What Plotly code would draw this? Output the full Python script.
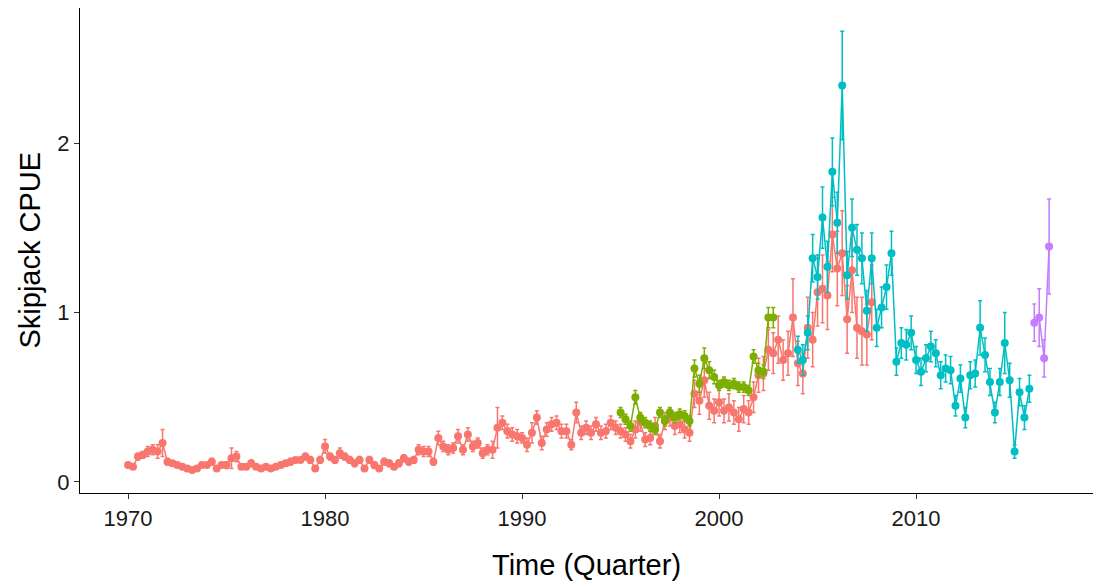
import plotly.graph_objects as go

# ---------------- data ----------------
red_start = 1970.0
red_vals = [
    0.10, 0.09, 0.15, 0.16,  # 1970
    0.18, 0.19, 0.18, 0.23,  # 1971
    0.12, 0.11, 0.10, 0.09,  # 1972
    0.08, 0.07, 0.08, 0.10,  # 1973
    0.10, 0.12, 0.08, 0.10,  # 1974
    0.10, 0.14, 0.15, 0.09,  # 1975
    0.09, 0.11, 0.09, 0.08,  # 1976
    0.09, 0.08, 0.09, 0.10,  # 1977
    0.11, 0.12, 0.13, 0.13,  # 1978
    0.15, 0.13, 0.08, 0.13,  # 1979
    0.21, 0.15, 0.13, 0.17,  # 1980
    0.15, 0.13, 0.11, 0.13,  # 1981
    0.08, 0.13, 0.10, 0.08,  # 1982
    0.12, 0.11, 0.09, 0.11,  # 1983
    0.14, 0.12, 0.13, 0.19,  # 1984
    0.18, 0.18, 0.12, 0.26,  # 1985
    0.21, 0.19, 0.20, 0.27,  # 1986
    0.19, 0.28, 0.21, 0.23,  # 1987
    0.17, 0.19, 0.19, 0.32,  # 1988
    0.35, 0.30, 0.28, 0.27,  # 1989
    0.26, 0.22, 0.29, 0.38,  # 1990
    0.23, 0.31, 0.34, 0.35,  # 1991
    0.30, 0.30, 0.22, 0.41,  # 1992
    0.29, 0.32, 0.29, 0.34,  # 1993
    0.29, 0.30, 0.35, 0.32,  # 1994
    0.30, 0.28, 0.24, 0.31,  # 1995
    0.35, 0.25, 0.26, 0.33,  # 1996
    0.24, 0.36, 0.38, 0.33,  # 1997
    0.34, 0.31, 0.29, 0.52,  # 1998
    0.48, 0.60, 0.45, 0.42,  # 1999
    0.47, 0.42, 0.44, 0.41,  # 2000
    0.37, 0.43, 0.41, 0.50,  # 2001
    0.63, 0.64, 0.78, 0.76,  # 2002
    0.84, 0.72, 0.76, 0.97,  # 2003
    0.70, 0.64, 0.91, 0.84,  # 2004
    1.12, 1.14, 1.10, 1.46,  # 2005
    1.26, 1.35, 0.96, 1.25,  # 2006
    0.91, 0.89, 0.87, 1.06,  # 2007
]
red_err = [
    0.01, 0.01, 0.02, 0.02,
    0.03, 0.03, 0.04, 0.08,
    0.02, 0.01, 0.01, 0.01,
    0.01, 0.01, 0.01, 0.01,
    0.01, 0.02, 0.01, 0.01,
    0.02, 0.06, 0.03, 0.01,
    0.01, 0.02, 0.01, 0.01,
    0.01, 0.01, 0.01, 0.01,
    0.01, 0.02, 0.01, 0.01,
    0.02, 0.02, 0.01, 0.02,
    0.04, 0.02, 0.02, 0.03,
    0.02, 0.02, 0.02, 0.02,
    0.01, 0.02, 0.02, 0.01,
    0.02, 0.02, 0.01, 0.02,
    0.02, 0.02, 0.02, 0.03,
    0.03, 0.03, 0.02, 0.04,
    0.03, 0.03, 0.03, 0.04,
    0.03, 0.04, 0.03, 0.03,
    0.03, 0.03, 0.05, 0.12,
    0.04, 0.04, 0.04, 0.04,
    0.03, 0.04, 0.06, 0.04,
    0.04, 0.04, 0.04, 0.04,
    0.04, 0.04, 0.03, 0.06,
    0.04, 0.04, 0.04, 0.04,
    0.04, 0.04, 0.04, 0.04,
    0.04, 0.04, 0.04, 0.05,
    0.05, 0.04, 0.04, 0.05,
    0.04, 0.05, 0.05, 0.05,
    0.05, 0.05, 0.05, 0.08,
    0.08, 0.10, 0.08, 0.07,
    0.08, 0.07, 0.08, 0.07,
    0.07, 0.08, 0.07, 0.09,
    0.10, 0.10, 0.12, 0.12,
    0.14, 0.12, 0.13, 0.23,
    0.13, 0.12, 0.18, 0.16,
    0.20, 0.20, 0.20, 0.22,
    0.22, 0.25, 0.20, 0.25,
    0.18, 0.20, 0.18, 0.22,
]

green_start = 1995.0
green_vals = [
    0.41, 0.37, 0.33, 0.50,  # 1995
    0.38, 0.35, 0.33, 0.31,  # 1996
    0.41, 0.36, 0.41, 0.38,  # 1997
    0.40, 0.39, 0.36, 0.67,  # 1998
    0.58, 0.73, 0.66, 0.62,  # 1999
    0.57, 0.59, 0.57, 0.58,  # 2000
    0.56, 0.56, 0.54, 0.74,  # 2001
    0.66, 0.65, 0.97, 0.97,  # 2002
]
green_err = [
    0.03, 0.03, 0.03, 0.04,
    0.03, 0.03, 0.03, 0.03,
    0.03, 0.03, 0.03, 0.03,
    0.03, 0.03, 0.03, 0.05,
    0.05, 0.06, 0.05, 0.04,
    0.03, 0.03, 0.03, 0.03,
    0.03, 0.03, 0.03, 0.04,
    0.04, 0.04, 0.06, 0.06,
]

cyan_start = 2004.0
cyan_vals = [
    0.78, 0.72, 0.88, 1.32,  # 2004
    1.21, 1.56, 1.27, 1.83,  # 2005
    1.53, 2.34, 1.22, 1.50,  # 2006
    1.37, 1.32, 1.01, 1.32,  # 2007
    0.91, 1.03, 1.15, 1.35,  # 2008
    0.71, 0.82, 0.81, 0.88,  # 2009
    0.72, 0.65, 0.73, 0.80,  # 2010
    0.76, 0.63, 0.67, 0.66,  # 2011
    0.45, 0.61, 0.38, 0.63,  # 2012
    0.64, 0.91, 0.75, 0.59,  # 2013
    0.41, 0.59, 0.82, 0.60,  # 2014
    0.18, 0.53, 0.38, 0.55,  # 2015
]
cyan_err = [
    0.08, 0.09, 0.10, 0.14,
    0.13, 0.18, 0.15, 0.20,
    0.18, 0.32, 0.14, 0.17,
    0.15, 0.15, 0.12, 0.15,
    0.11, 0.12, 0.13, 0.13,
    0.08, 0.09, 0.09, 0.10,
    0.08, 0.08, 0.08, 0.09,
    0.08, 0.08, 0.08, 0.08,
    0.06, 0.08, 0.06, 0.08,
    0.08, 0.16, 0.10, 0.08,
    0.06, 0.08, 0.18, 0.10,
    0.04, 0.08, 0.07, 0.08,
]

purple_start = 2016.0
purple_vals = [0.94, 0.97, 0.73, 1.39]
purple_err = [0.11, 0.17, 0.11, 0.28]

series = [
    ("#F8766D", red_start, red_vals, red_err),
    ("#7CAE00", green_start, green_vals, green_err),
    ("#00BFC4", cyan_start, cyan_vals, cyan_err),
    ("#C77CFF", purple_start, purple_vals, purple_err),
]

x_ticks = [1970, 1980, 1990, 2000, 2010]
y_ticks = [0, 1, 2]

# ---------------- figure ----------------
fig = go.Figure()
for col, start, vals, err in series:
    t = [start + 0.25 * i for i in range(len(vals))]
    fig.add_trace(go.Scatter(
        x=t, y=vals, mode="lines+markers",
        line=dict(color=col, width=1.5),
        marker=dict(color=col, size=8),
        error_y=dict(type="data", array=err, visible=True,
                     color=col, thickness=1.5, width=2),
        showlegend=False, hoverinfo="x+y",
    ))

FONT = "Liberation Sans, Arial, sans-serif"
axis_font = dict(family=FONT, size=22, color="#1a1a1a")
fig.update_layout(
    width=1100, height=583,
    margin=dict(l=80, r=7, t=8, b=90),
    paper_bgcolor="white", plot_bgcolor="white",
    xaxis=dict(range=[1967.56, 2018.98], tickvals=x_ticks,
               ticktext=[str(v) for v in x_ticks],
               showgrid=False, zeroline=False, showline=True,
               linecolor="black", linewidth=1.3,
               ticks="outside", ticklen=5, tickcolor="#333", tickwidth=1.2,
               tickfont=axis_font),
    yaxis=dict(range=[-0.065, 2.797], tickvals=y_ticks,
               ticktext=[str(v) for v in y_ticks],
               showgrid=False, zeroline=False, showline=True,
               linecolor="black", linewidth=1.3,
               ticks="outside", ticklen=5, tickcolor="#333", tickwidth=1.2,
               tickfont=axis_font),
    font=dict(family=FONT),
)

fig.add_annotation(text="Time (Quarter)", xref="paper", yref="paper",
                   x=0.5, y=0, yshift=-72, showarrow=False,
                   xanchor="center", yanchor="middle",
                   font=dict(family=FONT, size=29, color="black"))
fig.add_annotation(text="Skipjack CPUE", xref="paper", yref="paper",
                   x=0, y=0.5, xshift=-51, showarrow=False, textangle=-90,
                   xanchor="center", yanchor="middle",
                   font=dict(family=FONT, size=29, color="black"))

fig.write_html("out.html")
